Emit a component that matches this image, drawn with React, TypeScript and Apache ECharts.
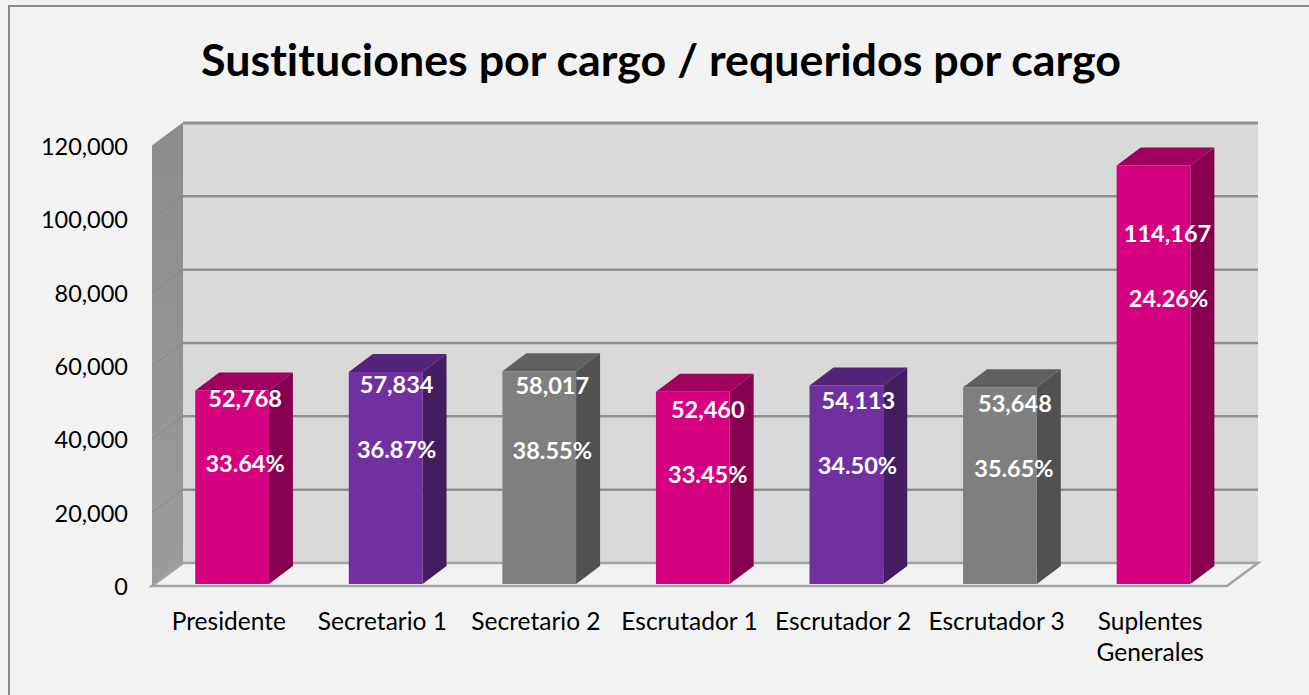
import React, { useEffect, useRef } from "react";
import * as echarts from "echarts";

const titleText = "Sustituciones por cargo / requeridos por cargo";
const categories = ["Presidente", "Secretario 1", "Secretario 2", "Escrutador 1", "Escrutador 2", "Escrutador 3", "Suplentes\nGenerales"];
const sustituciones = [52768, 57834, 58017, 52460, 54113, 53648, 114167];
const porcentajes = [33.64, 36.87, 38.55, 33.45, 34.5, 35.65, 24.26];
const yTicks = [0, 20000, 40000, 60000, 80000, 100000, 120000];

// layout and style tables, kept apart from the data
const faces = [
  { front: "#d5007f", side: "#870050", top: "#a0005f" },
  { front: "#7030a0", side: "#431d60", top: "#54247a" },
  { front: "#7f7f7f", side: "#515151", top: "#606060" },
  { front: "#d5007f", side: "#870050", top: "#a0005f" },
  { front: "#7030a0", side: "#431d60", top: "#54247a" },
  { front: "#7f7f7f", side: "#515151", top: "#606060" },
  { front: "#d5007f", side: "#870050", top: "#a0005f" },
];
const labelDrop = [-8, -3, -1, 2, -1, 1, 53];
const labelShift = [0, -2, 0, 2, -1, 2, 1];
const pctShift = [0, -2, 0, 2, -2, 1, 2];
const FONT = "Lato, 'Open Sans', sans-serif";
const DX = 31;
const DY = 23;
const BAR_DX = 24;
const BAR_DY = 18;

function renderBackdrop(params: any, api: any) {
  const cs = params.coordSys;
  const x0 = cs.x;
  const x1 = cs.x + cs.width;
  const y0 = api.coord([0, 0])[1];
  const yT = api.coord([0, 120000])[1];
  const wallFill = new echarts.graphic.LinearGradient(0, 0, 0, 1, [
    { offset: 0, color: "#8b8b8b" },
    { offset: 1, color: "#9c9c9c" },
  ]);
  const children: any[] = [
    { type: "polygon", shape: { points: [[x0 + DX, yT - DY], [x1 + DX, yT - DY], [x1 + DX, y0 - DY], [x0 + DX, y0 - DY]] }, style: { fill: "#d9d9d9" } },
    { type: "polygon", shape: { points: [[x0, yT], [x0 + DX, yT - DY], [x0 + DX, y0 - DY], [x0, y0]] }, style: { fill: wallFill } },
    { type: "polygon", shape: { points: [[x0, y0], [x0 + DX, y0 - DY], [x1 + DX, y0 - DY], [x1, y0]] }, style: { fill: "#f2f2f2", stroke: "#a3a3a3", lineWidth: 2.5 } },
  ];
  yTicks.forEach((t) => {
    const y = api.coord([0, t])[1];
    if (t > 0) {
      children.push({ type: "line", shape: { x1: x0 + DX, y1: y - DY, x2: x1 + DX, y2: y - DY }, style: { stroke: "#8f8f8f", lineWidth: t === 120000 ? 3 : 2.5 } });
      children.push({ type: "line", shape: { x1: x0, y1: y, x2: x0 + DX, y2: y - DY }, style: { stroke: "#868686", lineWidth: 1 } });
    }
  });
  return { type: "group", children };
}

function renderBar(params: any, api: any) {
  const i = api.value(0);
  const v = api.value(1);
  const p = api.value(2);
  const band = api.size([1, 0])[0];
  const w = band * 0.48;
  const cx = api.coord([i, 0])[0] + 3.3;
  const base = api.coord([i, 0])[1] - 2;
  const top = api.coord([i, v])[1] - 2;
  const l = cx - w / 2;
  const r = cx + w / 2;
  const c = faces[params.dataIndex];
  const valY = top + labelDrop[params.dataIndex];
  const textCx = cx + 13;
  return {
    type: "group",
    children: [
      { type: "polygon", shape: { points: [[l, top], [l + BAR_DX, top - BAR_DY], [r + BAR_DX, top - BAR_DY], [r, top]] }, style: { fill: c.top } },
      { type: "polygon", shape: { points: [[r, top], [r + BAR_DX, top - BAR_DY], [r + BAR_DX, base - BAR_DY], [r, base]] }, style: { fill: c.side } },
      { type: "rect", shape: { x: l, y: top, width: w, height: base - top }, style: { fill: c.front } },
      { type: "text", style: { text: v.toLocaleString("en-US"), x: textCx + labelShift[params.dataIndex], y: valY + 15, fill: "#ffffff", font: `bold 23.5px ${FONT}`, textAlign: "center", textVerticalAlign: "middle" } },
      { type: "text", style: { text: `${p.toFixed(2)}%`, x: textCx + pctShift[params.dataIndex], y: valY + 80, fill: "#ffffff", font: `bold 23.5px ${FONT}`, textAlign: "center", textVerticalAlign: "middle" } },
    ],
  };
}

export default function App() {
  const ref = useRef<HTMLDivElement>(null);
  useEffect(() => {
    const chart = echarts.init(ref.current!, null, { renderer: "svg" });
    chart.setOption({
      animation: false,
      backgroundColor: "#f2f2f2",
      title: {
        text: titleText,
        left: 656,
        top: 31,
        textAlign: "center",
        textStyle: { fontFamily: FONT, fontWeight: "bold", fontSize: 44.8, color: "#000000" },
      },
      graphic: [
        { type: "polyline", shape: { points: [[9, 695], [9, 6], [1309, 6]] }, style: { fill: "none", stroke: "#8c8c8c", lineWidth: 2 } },
      ],
      grid: { left: 152, top: 146, width: 1075, height: 440, containLabel: false },
      xAxis: {
        type: "category",
        data: categories,
        axisLine: { show: false },
        axisTick: { show: false },
        axisLabel: { fontFamily: FONT, fontSize: 24.5, color: "#000000", margin: 19, lineHeight: 31, interval: 0 },
      },
      yAxis: {
        type: "value",
        min: 0,
        max: 120000,
        interval: 20000,
        axisLine: { show: false },
        axisTick: { show: false },
        splitLine: { show: false },
        axisLabel: { fontFamily: FONT, fontSize: 23.5, color: "#000000", margin: 24, padding: [2, 0, 0, 0], formatter: (v: number) => v.toLocaleString("en-US") },
      },
      series: [
        { type: "custom", silent: true, renderItem: renderBackdrop, data: [[0, 0]], encode: { x: 0, y: 1 } },
        {
          type: "custom",
          name: "Sustituciones",
          renderItem: renderBar,
          data: categories.map((_, i) => [i, sustituciones[i], porcentajes[i]]),
          encode: { x: 0, y: 1 },
        },
      ],
    });
    return () => chart.dispose();
  }, []);
  return <div ref={ref} style={{ position: "fixed", left: 0, top: 0, width: 1309, height: 695, fontVariantLigatures: "none" }} />;
}
